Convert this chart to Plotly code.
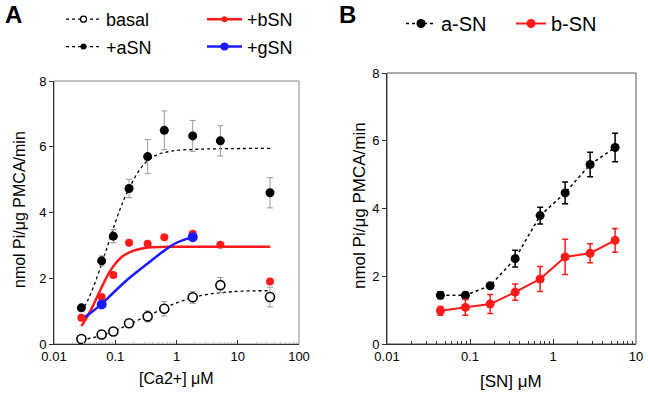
import plotly.graph_objects as go

# ---------------- Panel A data ----------------
ca = [0.028, 0.06, 0.093, 0.168, 0.338, 0.632, 1.84, 5.2, 33.6]
basal = [0.15, 0.29, 0.38, 0.63, 0.84, 1.07, 1.42, 1.79, 1.43]
basal_err = [0.05, 0.05, 0.06, 0.1, 0.17, 0.22, 0.18, 0.23, 0.3]
asn = [1.1, 2.53, 3.28, 4.73, 5.7, 6.5, 6.33, 6.18, 4.6]
asn_err = [0.0, 0.15, 0.2, 0.28, 0.52, 0.59, 0.47, 0.46, 0.46]
bsn = [0.8, 1.43, 2.1, 3.08, 3.05, 3.25, 3.35, 3.02, 1.9]
ca_g = [0.06, 1.84]
gsn = [1.2, 3.25]

# fitted curves
fit_a_x = [0.028, 0.035, 0.045, 0.06, 0.075, 0.1, 0.13, 0.17, 0.25, 0.35, 0.5, 0.7, 1, 2, 5, 34]
fit_a_y = [0.98, 1.3, 1.78, 2.44, 2.98, 3.69, 4.27, 4.75, 5.3, 5.6, 5.77, 5.84, 5.89, 5.92, 5.94, 5.95]
fit_basal_x = [0.028, 0.045, 0.06, 0.1, 0.17, 0.3, 0.5, 0.8, 1.2, 2, 3.5, 6, 12, 34]
fit_basal_y = [0.12, 0.2, 0.27, 0.41, 0.6, 0.82, 1.0, 1.18, 1.3, 1.43, 1.52, 1.57, 1.61, 1.62]
fit_b_x = [0.028, 0.035, 0.045, 0.055, 0.065, 0.08, 0.1, 0.13, 0.17, 0.25, 0.4, 0.7, 1.5, 5, 34]
fit_b_y = [0.55, 0.83, 1.23, 1.58, 1.86, 2.18, 2.44, 2.66, 2.79, 2.89, 2.94, 2.96, 2.96, 2.96, 2.96]
fit_g_x = [0.028, 0.04, 0.06, 0.093, 0.168, 0.338, 0.632, 1.0, 1.84]
fit_g_y = [0.75, 0.95, 1.22, 1.56, 2.0, 2.45, 2.84, 3.08, 3.26]

# ---------------- Panel B data ----------------
sn = [0.044, 0.088, 0.175, 0.35, 0.70, 1.4, 2.8, 5.6]
a_sn = [1.44, 1.44, 1.72, 2.52, 3.79, 4.46, 5.3, 5.8]
a_sn_err = [0.1, 0.08, 0.06, 0.25, 0.25, 0.32, 0.36, 0.42]
b_sn = [0.98, 1.08, 1.18, 1.53, 1.92, 2.57, 2.68, 3.06]
b_sn_err = [0.13, 0.23, 0.28, 0.24, 0.37, 0.52, 0.28, 0.35]

xticks_a = [0.01, 0.1, 1, 10, 100]
xticks_a_text = ["0.01", "0.1", "1", "10", "100"]
xticks_b = [0.01, 0.1, 1, 10]
xticks_b_text = ["0.01", "0.1", "1", "10"]
yticks = [0, 2, 4, 6, 8]

FONT = "Liberation Sans, Arial, sans-serif"
GREY = "#999999"
RED = "#ff1a1a"
BLUE = "#1a1aff"

W, H = 648, 396
OFF = 0  # body margin removed by post_script


def px(x):
    return (x - OFF) / W


def py(y):
    return 1 - (y - OFF) / H


fig = go.Figure()

# ---- Panel A fits
fig.add_trace(go.Scatter(x=fit_basal_x, y=fit_basal_y, mode="lines", line=dict(color="black", width=1.3, dash="dot", shape="spline"), showlegend=False))
fig.add_trace(go.Scatter(x=fit_a_x, y=fit_a_y, mode="lines", line=dict(color="black", width=1.3, dash="dot", shape="spline"), showlegend=False))
fig.add_trace(go.Scatter(x=fit_b_x, y=fit_b_y, mode="lines", line=dict(color=RED, width=2.5, shape="spline"), showlegend=False))
fig.add_trace(go.Scatter(x=fit_g_x, y=fit_g_y, mode="lines", line=dict(color=BLUE, width=2.5, shape="spline"), showlegend=False))

# ---- Panel A points
fig.add_trace(go.Scatter(x=ca, y=asn, mode="markers",
                         error_y=dict(type="data", array=asn_err, color=GREY, thickness=1, width=3),
                         marker=dict(color="black", size=9), showlegend=False))
fig.add_trace(go.Scatter(x=ca, y=basal, mode="markers",
                         error_y=dict(type="data", array=basal_err, color=GREY, thickness=1, width=3),
                         marker=dict(color="white", size=9, line=dict(color="black", width=1.6)), showlegend=False))
fig.add_trace(go.Scatter(x=ca, y=bsn, mode="markers", marker=dict(color=RED, size=8), showlegend=False))
fig.add_trace(go.Scatter(x=ca_g, y=gsn, mode="markers", marker=dict(color=BLUE, size=10), showlegend=False))

# ---- Panel A legend entries
fig.add_trace(go.Scatter(x=[None], y=[None], mode="lines+markers", name="basal", legend="legend", legendgroup="g1",
                         line=dict(color="black", width=1.3, dash="dot"),
                         marker=dict(color="white", size=6, line=dict(color="black", width=1.3))))
fig.add_trace(go.Scatter(x=[None], y=[None], mode="lines+markers", name="+aSN", legend="legend", legendgroup="g2",
                         line=dict(color="black", width=1.3, dash="dot"), marker=dict(color="black", size=6)))
fig.add_trace(go.Scatter(x=[None], y=[None], mode="lines+markers", name="+bSN", legend="legend2", legendgroup="g3",
                         line=dict(color=RED, width=2.5), marker=dict(color=RED, size=6)))
fig.add_trace(go.Scatter(x=[None], y=[None], mode="lines+markers", name="+gSN", legend="legend2", legendgroup="g4",
                         line=dict(color=BLUE, width=2.5), marker=dict(color=BLUE, size=8)))

# ---- Panel B
fig.add_trace(go.Scatter(x=sn, y=a_sn, mode="lines+markers", name="a-SN", legend="legend3",
                         xaxis="x2", yaxis="y2",
                         line=dict(color="black", width=1.5, dash="dot"),
                         error_y=dict(type="data", array=a_sn_err, color="black", thickness=1.5, width=3),
                         marker=dict(color="black", size=9)))
fig.add_trace(go.Scatter(x=sn, y=b_sn, mode="lines+markers", name="b-SN", legend="legend3",
                         xaxis="x2", yaxis="y2",
                         line=dict(color=RED, width=2),
                         error_y=dict(type="data", array=b_sn_err, color=RED, thickness=1.5, width=3),
                         marker=dict(color=RED, size=9)))

ax_common = dict(showgrid=False, zeroline=False, showline=True, linecolor="#333333", linewidth=1,
                 tickfont=dict(size=13, color="black", family=FONT))

minor_a = [m * 10 ** e for e in range(-2, 2) for m in range(2, 10)]
minor_b = [m * 10 ** e for e in range(-2, 1) for m in range(2, 10)]

A_L, A_R, A_T, A_B = 54, 299, 81, 344
B_L, B_R, B_T, B_B = 387, 636, 73, 344


def label(text, x, y, size, angle=0, bold=False):
    return dict(text=f"<b>{text}</b>" if bold else text, x=px(x), y=py(y), xref="paper", yref="paper",
                xanchor="center", yanchor="middle", textangle=angle, showarrow=False,
                font=dict(size=size, family=FONT, color="black"))


fig.update_layout(
    width=W, height=H,
    margin=dict(l=0, r=0, t=0, b=0, autoexpand=False),
    paper_bgcolor="white", plot_bgcolor="white",
    font=dict(family=FONT, color="black"),
    xaxis=dict(**ax_common, type="log", domain=[px(A_L), px(A_R)], range=[-2, 2],
               tickmode="array", tickvals=xticks_a, ticktext=xticks_a_text,
               ticks="inside", ticklen=4, tickcolor="#333333",
               minor=dict(tickmode="array", tickvals=minor_a, ticks="inside", ticklen=2, tickcolor="#bbbbbb"),
               anchor="y"),
    yaxis=dict(**ax_common, domain=[py(A_B), py(A_T)], range=[0, 8],
               tickmode="array", tickvals=yticks, ticks="outside", ticklen=4, tickcolor="#333333",
               anchor="x"),
    xaxis2=dict(**ax_common, type="log", domain=[px(B_L), px(B_R)], range=[-2, 1],
                tickmode="array", tickvals=xticks_b, ticktext=xticks_b_text,
                ticks="inside", ticklen=5, tickcolor="#333333",
                minor=dict(tickmode="array", tickvals=minor_b, ticks="inside", ticklen=3, tickcolor="#333333"),
                anchor="y2"),
    yaxis2=dict(**ax_common, domain=[py(B_B), py(B_T)], range=[0, 8],
                tickmode="array", tickvals=yticks, ticks="outside", ticklen=4, tickcolor="#333333",
                anchor="x2"),
    legend=dict(x=61 / W, y=1 - 1 / H, xanchor="left", yanchor="top", bgcolor="rgba(0,0,0,0)",
                font=dict(size=18, family=FONT), tracegroupgap=1, itemwidth=35),
    legend2=dict(x=202 / W, y=1 - 1 / H, xanchor="left", yanchor="top", bgcolor="rgba(0,0,0,0)",
                 font=dict(size=18, family=FONT), tracegroupgap=1, itemwidth=35),
    legend3=dict(x=401 / W, y=1 - 4 / H, xanchor="left", yanchor="top", orientation="h",
                 bgcolor="rgba(0,0,0,0)", font=dict(size=20, family=FONT), entrywidth=65, itemwidth=30),
    shapes=[
        dict(type="rect", xref="paper", yref="paper", x0=px(A_L), x1=px(A_R), y0=py(A_B), y1=py(A_T),
             line=dict(color="#888888", width=1), layer="below"),
        dict(type="rect", xref="paper", yref="paper", x0=px(B_L), x1=px(B_R), y0=py(B_B), y1=py(B_T),
             line=dict(color="#555555", width=1), layer="below"),
    ],
    annotations=[
        label("A", 13.5, 15, 24, bold=True),
        label("B", 347.5, 15, 24, bold=True),
        label("nmol Pi/μg PMCA/min", 19, 210, 16, angle=-90),
        label("nmol Pi/μg PMCA/min", 359, 206, 17, angle=-90),
        label("[Ca2+] μM", 176, 378, 16),
        label("[SN] μM", 511, 381, 17),
    ],
)

fig.write_html("out.html", config={"displayModeBar": False},
               post_script="document.body.style.margin='0';document.body.style.overflow='hidden';")
